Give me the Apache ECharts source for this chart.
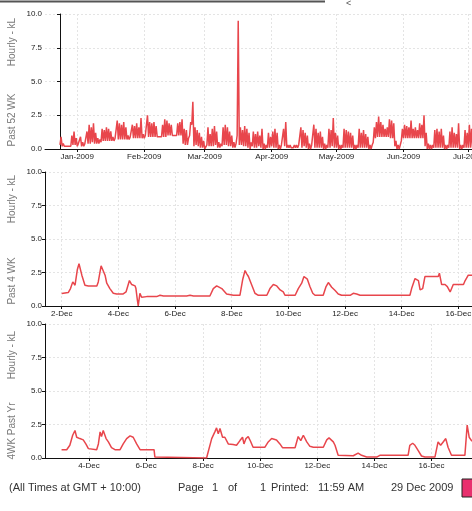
<!DOCTYPE html>
<html><head><meta charset="utf-8">
<script src="https://cdn.jsdelivr.net/npm/echarts@6/dist/echarts.min.js"></script>
<style>html,body{margin:0;padding:0;background:#fff}#c{width:472px;height:511px}</style>
</head><body><div id="c"></div>
<script>
// ---- Panel 1: Past 52 WK (day 0 = 24 Dec 2008), daily trough and peak, kL/hour
const p52High = [
 0.9,0.4,0.3,0.3,0.3,1.0,1.3, 0.8,0.4,0.9,0.5,0.4,1.3,1.8, 1.6,1.9,1.2,0.8,0.7,1.5,1.4,
 1.6,1.5,1.3,0.9,0.8,2.1,1.9, 1.8,2.0,1.6,1.0,0.9,1.8,1.7, 1.9,1.6,2.3,1.1,1.0,2.5,2.0,
 1.9,2.0,1.7,1.0,1.0,1.8,2.2, 2.1,1.9,1.8,1.1,1.0,1.9,2.0, 2.2,1.5,1.4,0.8,2.0,3.5,1.6,
 1.4,1.2,0.9,0.6,0.1,1.6,1.1, 1.5,1.7,1.3,0.5,0.4,1.6,1.8, 1.6,1.3,1.0,0.5,0.4,9.5,1.6,
 1.4,1.7,1.5,1.2,0.5,1.3,1.1, 1.3,1.0,1.5,0.4,0.3,1.2,0.9, 1.3,1.5,1.2,0.3,0.3,1.5,2.0,
 0.3,0.3,0.2,0.3,0.3,0.3,1.6, 1.4,1.2,1.0,0.4,0.3,1.8,1.5, 1.2,1.3,0.9,0.4,0.3,1.5,1.4,
 2.3,1.2,1.0,0.3,0.3,1.5,1.4, 1.3,1.2,1.0,0.3,0.3,1.5,1.2, 1.4,1.1,0.9,0.3,0.3,1.6,2.0,
 2.4,2.0,1.8,1.5,1.6,2.2,2.1, 1.9,0.6,0.3,0.3,1.5,1.8,1.7, 1.6,2.1,1.5,1.6,1.4,1.9,1.8,
 2.5,1.2,0.4,0.3,0.3,1.4,1.5, 1.3,1.5,1.0,0.3,0.3,1.3,1.6, 1.2,1.1,1.9,0.3,0.3,1.4,1.2,
 1.8,1.5,1.3,0.4
];
const p52Low = [
 0.3,0.2,0.2,0.2,0.2,0.2,0.3, 0.3,0.2,0.3,0.2,0.2,0.3,0.4, 0.4,0.5,0.4,0.4,0.4,0.5,0.6,
 0.6,0.6,0.6,0.6,0.6,0.7,0.7, 0.7,0.7,0.7,0.7,0.7,0.8,0.8, 0.8,0.8,0.8,0.8,0.8,0.9,0.9,
 0.9,0.9,0.9,0.9,0.9,0.9,0.9, 0.9,1.0,1.0,1.0,1.0,1.0,1.0, 1.0,0.4,0.3,0.3,1.0,1.8,0.2,
 0.3,0.2,0.1,0.1,0.0,0.3,0.2, 0.2,0.2,0.3,0.1,0.1,0.2,0.3, 0.3,0.2,0.2,0.1,0.1,1.0,0.3,
 0.3,0.2,0.2,0.1,0.0,0.2,0.1, 0.1,0.2,0.1,0.0,0.0,0.1,0.1, 0.2,0.1,0.1,0.0,0.0,0.2,0.2,
 0.1,0.1,0.1,0.1,0.1,0.1,0.2, 0.1,0.2,0.1,0.0,0.0,0.2,0.1, 0.1,0.1,0.1,0.0,0.0,0.1,0.1,
 0.2,0.1,0.1,0.0,0.0,0.1,0.1, 0.1,0.1,0.1,0.0,0.0,0.1,0.1, 0.1,0.1,0.1,0.0,0.0,0.5,0.8,
 0.9,0.9,0.9,0.9,0.9,0.9,0.8, 0.8,0.2,0.0,0.0,0.6,0.8,0.8, 0.8,0.8,0.8,0.8,0.8,0.8,0.8,
 0.8,0.2,0.0,0.0,0.0,0.1,0.1, 0.1,0.1,0.1,0.0,0.0,0.1,0.1, 0.1,0.1,0.1,0.0,0.0,0.1,0.1,
 0.1,0.1,0.1,0.0
];
const p52TickDays = [8, 39, 67, 98, 128, 159, 189];
const p52TickLabels = ['Jan-2009','Feb-2009','Mar-2009','Apr-2009','May-2009','Jun-2009','Jul-2009'];

// ---- Panel 2: Past 4 WK (day of December 2009, kL/hour)
const p4Day = [2.00,2.23,2.27,2.31,2.35,2.39,2.47,2.55,2.61,2.71,2.82,2.94,3.24,3.29,3.39,3.45,3.53,3.59,3.70,3.82,3.94,4.17,4.27,4.39,4.47,4.59,4.62,4.67,4.70,4.76,4.82,5.00,5.35,5.47,5.59,6.41,6.53,6.65,7.23,7.35,7.47,7.65,7.82,8.06,8.29,8.39,8.47,8.53,8.59,8.71,8.82,8.94,9.24,9.35,9.47,9.59,9.71,9.82,9.88,10.24,10.35,10.47,10.55,10.67,10.76,10.86,10.94,11.23,11.33,11.41,11.53,11.65,11.76,11.88,12.18,12.29,12.41,12.53,14.29,14.35,14.47,14.59,14.65,14.74,14.82,15.29,15.33,15.41,15.53,15.61,15.71,15.82,16.18,16.24,16.35,16.47,16.60,16.80];
const p4Val = [0.94,1.0,1.05,1.3,1.2,1.8,1.55,2.7,3.15,2.3,1.55,1.5,1.5,1.8,3.0,2.9,2.3,1.7,1.3,0.95,0.9,0.9,1.05,1.9,1.6,1.5,1.3,0.45,0.0,0.95,0.65,0.7,0.7,0.8,0.75,0.75,0.8,0.75,0.75,1.3,1.5,1.3,0.9,0.8,0.8,2.0,2.65,2.4,2.2,1.55,0.95,0.8,0.8,1.3,1.6,1.5,1.2,1.05,0.8,0.8,1.3,1.7,2.2,2.0,1.45,0.95,0.8,0.8,1.45,1.75,1.4,1.15,0.9,0.8,0.8,0.95,0.9,0.8,0.8,1.3,2.05,1.9,1.2,1.3,2.2,2.2,2.45,1.6,1.6,1.45,1.05,1.6,1.6,1.9,2.3,2.3,2.2,1.5];
const p4TickDays = [2,4,6,8,10,12,14,16,18];

// ---- Panel 3: 4WK Past Yr (day of December 2008, kL/hour)
const pyDay = [3.04,3.22,3.33,3.43,3.51,3.57,3.68,3.80,3.89,3.98,4.04,4.27,4.33,4.39,4.44,4.50,4.60,4.68,4.79,4.91,5.09,5.20,5.32,5.44,5.55,5.67,5.79,6.28,6.31,6.37,8.12,8.18,8.30,8.41,8.47,8.53,8.59,8.68,8.76,8.88,9.05,9.17,9.29,9.38,9.43,9.50,9.58,9.66,9.75,10.16,10.28,10.40,10.57,10.69,10.78,11.22,11.33,11.42,11.51,11.63,11.74,11.86,12.21,12.33,12.41,12.56,12.62,12.73,13.26,13.43,13.55,13.73,14.08,14.19,15.18,15.24,15.34,15.42,15.53,15.65,15.77,16.12,16.23,16.32,16.41,16.50,16.58,16.70,17.17,17.25,17.32,17.40,17.50];
const pyVal = [0.62,0.62,0.95,1.7,2.05,1.55,1.45,1.35,1.05,0.7,0.62,0.62,1.05,1.95,1.6,2.05,1.45,1.2,0.77,0.62,0.62,1.05,1.45,1.65,1.55,1.05,0.62,0.62,0.07,0.0,0.0,0.1,1.45,1.95,2.25,1.8,2.2,1.55,1.55,1.05,1.0,0.95,1.3,1.55,1.05,1.45,1.6,1.25,0.8,0.8,1.2,1.45,1.35,1.05,0.77,0.77,1.6,1.3,1.7,1.2,0.87,0.8,0.8,1.35,1.5,1.2,0.95,0.2,0.17,0.37,0.2,0.07,0.07,0.2,0.2,0.95,1.1,0.95,0.57,0.15,0.07,0.07,1.2,0.95,1.2,1.45,0.8,0.2,0.2,2.45,1.55,1.3,1.2];
const pyTickDays = [4,6,8,10,12,14,16,18];

const yTicks = ['0.0','2.5','5.0','7.5','10.0'];

// ---- build
const red = '#e8464c';
const font = 'Liberation Sans, Arial, sans-serif';
const p52Data = [];
p52High.forEach((h, i) => { p52Data.push([i, p52Low[i]]); p52Data.push([i + 0.5, h]); });
const zip = (a, b) => a.map((v, i) => [v, b[i]]);

const gbase = {left: 45, width: 457, containLabel: false, outerBoundsMode: 'none'};
const grids = [
  Object.assign({top: 14, height: 135}, gbase),
  Object.assign({top: 172, height: 134}, gbase),
  Object.assign({top: 324, height: 134}, gbase)
];
const splitStyle = {show: true, lineStyle: {color: '#e4e4e4', width: 1, type: [2, 2]}};
function xAx(gi, min, max, ticks, fmt) {
  return {
    type: 'value', gridIndex: gi, min: min, max: max,
    axisLine: {show: true, onZero: false, lineStyle: {color: '#111', width: 1}},
    axisTick: {show: true, customValues: ticks, length: 3, lineStyle: {color: '#111'}},
    axisLabel: {show: true, customValues: ticks, formatter: fmt, fontSize: 8, color: '#222', margin: 4, fontFamily: font, hideOverlap: false},
    splitLine: splitStyle
  };
}
function yAx(gi) {
  return {
    type: 'value', gridIndex: gi, min: 0, max: 10, interval: 2.5,
    axisLine: {show: true, lineStyle: {color: '#111', width: 1}},
    axisTick: {show: true, length: 3, lineStyle: {color: '#111'}},
    axisLabel: {fontSize: 8, color: '#222', margin: 3, fontFamily: font, formatter: v => yTicks[Math.round(v / 2.5)]},
    splitLine: splitStyle
  };
}
function yName(text, x, y) {
  return {type: 'text', x: x, y: y, rotation: Math.PI / 2,
    style: {text: text, fill: '#7a7a7a', fontSize: 10, fontFamily: font, align: 'center', verticalAlign: 'middle'}};
}
function foot(text, x) {
  return {type: 'text', x: x, y: 488, style: {text: text, fill: '#333', fontSize: 11, fontFamily: font, verticalAlign: 'middle'}};
}
const option = {
  animation: false,
  grid: grids,
  xAxis: [
    xAx(0, -6.94, 204.6, p52TickDays, v => p52TickLabels[p52TickDays.indexOf(Math.round(v))] || ''),
    xAx(1, 1.41, 17.54, p4TickDays, v => Math.round(v) + '-Dec'),
    xAx(2, 2.46, 18.47, pyTickDays, v => Math.round(v) + '-Dec')
  ],
  yAxis: [yAx(0), yAx(1), yAx(2)],
  series: [
    {type: 'line', xAxisIndex: 0, yAxisIndex: 0, data: p52Data, showSymbol: false, lineStyle: {color: red, width: 1.5}, clip: true},
    {type: 'line', xAxisIndex: 1, yAxisIndex: 1, data: zip(p4Day, p4Val), showSymbol: false, lineStyle: {color: red, width: 1.5}, clip: true},
    {type: 'line', xAxisIndex: 2, yAxisIndex: 2, data: zip(pyDay, pyVal), showSymbol: false, lineStyle: {color: red, width: 1.5}, clip: true}
  ],
  graphic: [
    {type: 'line', shape: {x1: 0, y1: 1.5, x2: 325, y2: 1.5}, style: {stroke: '#555', lineWidth: 2}},
    {type: 'text', x: 346, y: 4, style: {text: '<', fill: '#555', fontSize: 9, fontFamily: font, verticalAlign: 'middle'}},
    yName('Hourly - kL', 12, 42), yName('Past 52 WK', 12, 120),
    yName('Hourly - kL', 12, 199), yName('Past 4 WK', 12, 281),
    yName('Hourly - kL', 12, 355), yName('4WK Past Yr', 12, 431),
    foot('(All Times at GMT + 10:00)', 9),
    foot('Page', 178), foot('1', 212), foot('of', 228), foot('1', 260),
    foot('Printed:', 271), foot('11:59 AM', 318), foot('29 Dec 2009', 391),
    {type: 'rect', shape: {x: 462, y: 479, width: 12, height: 18}, style: {fill: '#e8306e', stroke: '#222', lineWidth: 1}}
  ]
};
echarts.init(document.getElementById('c'), null, {renderer: 'canvas'}).setOption(option);
</script></body></html>
